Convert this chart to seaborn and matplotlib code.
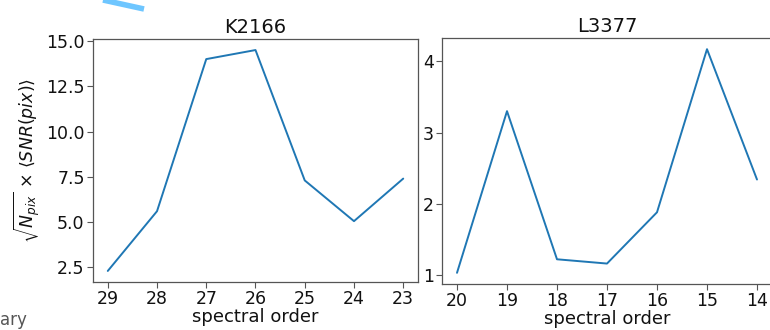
import numpy as np
import pandas as pd
import seaborn as sns
from matplotlib import pyplot as plt
from matplotlib.lines import Line2D

# K2166 panel
k_orders = [29, 28, 27, 26, 25, 24, 23]
k_values = [2.3, 5.6, 14.0, 14.5, 7.3, 5.05, 7.4]

# L3377 panel
l_orders = [20, 19, 18, 17, 16, 15, 14]
l_values = [1.03, 3.3, 1.22, 1.16, 1.88, 4.17, 2.34]

sns.set_style('white')
plt.rcParams['font.family'] = ['DejaVu Sans']
plt.rcParams['axes.edgecolor'] = '#555555'
plt.rcParams['text.color'] = '#111111'
plt.rcParams['axes.labelcolor'] = '#111111'
plt.rcParams['xtick.color'] = '#111111'
plt.rcParams['ytick.color'] = '#111111'
plt.rcParams['xtick.bottom'] = True
plt.rcParams['ytick.left'] = True

fig = plt.figure(figsize=(7.7, 3.3), dpi=100)
ax1 = fig.add_axes([93 / 770, 1 - 282 / 330, 325 / 770, 243 / 330])
ax2 = fig.add_axes([442 / 770, 1 - 284 / 330, 330 / 770, 246 / 330])

panels = [(ax1, k_orders, k_values, 'K2166'), (ax2, l_orders, l_values, 'L3377')]
for ax, orders, values, title in panels:
    df = pd.DataFrame({'order': orders, 'value': values})
    sns.lineplot(data=df, x='order', y='value', ax=ax, color='#1f77b4', linewidth=1.4, sort=False)
    ax.set_xlim(max(orders) + 0.3, min(orders) - 0.3)
    ax.set_xticks(orders)
    ax.set_title(title, fontsize=14, pad=4)
    ax.set_xlabel('spectral order', fontsize=13, labelpad=0)
    ax.set_ylabel('')
    ax.tick_params(axis='both', labelsize=12.5, length=4, width=0.8, color='#555555', pad=2)
    for sp in ax.spines.values():
        sp.set_linewidth(0.9)

ax2.set_yticks([1, 2, 3, 4])
ax1.set_ylabel(r'$\sqrt{N_{pix}}$ × $\langle SNR(pix)\rangle$', fontsize=12.5, labelpad=3)

# leftover marks from the cropped page
fig.add_artist(Line2D([103 / 770, 144 / 770], [1.0, 1 - 9 / 330], color='#6ec6ff',
                      linewidth=4, transform=fig.transFigure, solid_capstyle='butt'))
fig.text(0.0, 0.004, 'ary', fontsize=12, color='#555555', ha='left', va='bottom')

fig.savefig('out.png', dpi=100)
